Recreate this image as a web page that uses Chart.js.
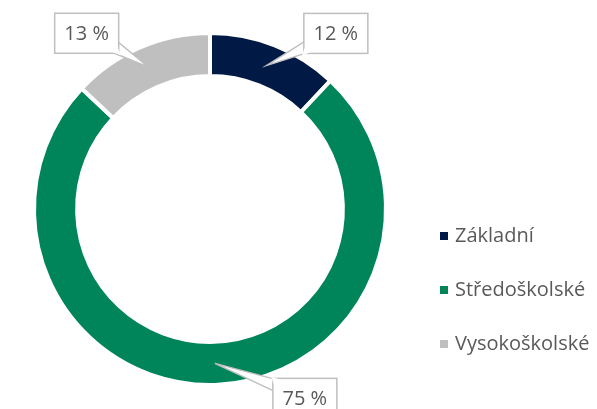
<!DOCTYPE html>
<html>
<head>
<meta charset="utf-8">
<script src="https://cdn.jsdelivr.net/npm/chart.js@4"></script>
<style>
  html, body { margin: 0; padding: 0; background: #fff; }
  #wrap { width: 597px; height: 409px; }
</style>
</head>
<body>
<div id="wrap"><canvas id="eduChart" width="597" height="409"></canvas></div>
<script>
// data
const categories = ['Základní', 'Středoškolské', 'Vysokoškolské'];
const shares = [12, 75, 13];
const sliceColors = ['#001A45', '#00855A', '#BFBFBF'];

// where each callout box sits, relative to the slice mid point (layout only)
const calloutOffsets = [[69, -32], [90, 35], [-62, -34]];

const textGrey = '#595959';
const fontFamily = '"Open Sans", "Noto Sans", sans-serif';

// callout boxes with a pointer into the ring
const calloutPlugin = {
  id: 'callouts',
  afterDatasetsDraw(chart) {
    const ctx = chart.ctx;
    const meta = chart.getDatasetMeta(0);
    ctx.save();
    ctx.font = '20px ' + fontFamily;
    meta.data.forEach((arc, i) => {
      const p = arc.getProps(['x', 'y', 'startAngle', 'endAngle', 'innerRadius', 'outerRadius'], true);
      const mid = (p.startAngle + p.endAngle) / 2;
      const r = (p.innerRadius + p.outerRadius) / 2;
      const tx = p.x + Math.cos(mid) * r;
      const ty = p.y + Math.sin(mid) * r;
      const cx = tx + calloutOffsets[i][0];
      const cy = ty + calloutOffsets[i][1];
      const w = 64, h = 40;
      const x0 = cx - w / 2, y0 = cy - h / 2;

      // pointer: base on the box edge near the corner closest to the tip
      const bx = tx < cx ? x0 + 4 : x0 + w - 4;
      const by = ty < cy ? y0 + 4 : y0 + h - 4;
      const dxs = tx < cx ? 1 : -1;
      const dys = ty < cy ? 1 : -1;
      ctx.beginPath();
      ctx.moveTo(bx + dxs * 10, by);
      ctx.lineTo(tx, ty);
      ctx.lineTo(bx, by + dys * 10);
      ctx.closePath();
      ctx.fillStyle = '#fff';
      ctx.fill();
      ctx.strokeStyle = '#BFBFBF';
      ctx.lineWidth = 1.5;
      ctx.stroke();

      ctx.fillStyle = '#fff';
      ctx.fillRect(x0, y0, w, h);
      ctx.strokeRect(x0, y0, w, h);
      // hide the box edge where the pointer joins
      ctx.beginPath();
      ctx.moveTo(bx + dxs * 10, by);
      ctx.lineTo(bx + dxs * 3, by + dys * 3);
      ctx.lineTo(bx, by + dys * 10);
      ctx.lineTo(bx - dxs * 6, by - dys * 6);
      ctx.closePath();
      ctx.fill();

      ctx.fillStyle = textGrey;
      ctx.textAlign = 'center';
      ctx.textBaseline = 'middle';
      ctx.fillText(shares[i] + ' %', cx, cy + 1);
    });
    ctx.restore();
  }
};

// legend drawn to the right of the ring
const sideLegend = {
  id: 'sideLegend',
  afterDraw(chart) {
    const ctx = chart.ctx;
    const items = chart.options.plugins.legend.labels.generateLabels(chart);
    const x = chart.chartArea.right + 52;
    const yStart = 236, step = 54;
    ctx.save();
    ctx.font = '20px ' + fontFamily;
    ctx.textBaseline = 'middle';
    items.forEach((it, i) => {
      const y = yStart + i * step;
      ctx.fillStyle = it.fillStyle;
      ctx.fillRect(x, y - 4, 8, 8);
      ctx.fillStyle = textGrey;
      ctx.fillText(it.text, x + 15, y);
    });
    ctx.restore();
  }
};

new Chart(document.getElementById('eduChart'), {
  type: 'doughnut',
  data: {
    labels: categories,
    datasets: [{
      data: shares,
      backgroundColor: sliceColors,
      borderColor: '#fff',
      borderWidth: 4
    }]
  },
  options: {
    responsive: false,
    animation: false,
    cutout: '75.5%',
    layout: { padding: { left: 32, right: 209, top: 31, bottom: 22 } },
    plugins: {
      legend: { display: false },
      tooltip: { enabled: false }
    }
  },
  plugins: [calloutPlugin, sideLegend]
});
</script>
</body>
</html>
